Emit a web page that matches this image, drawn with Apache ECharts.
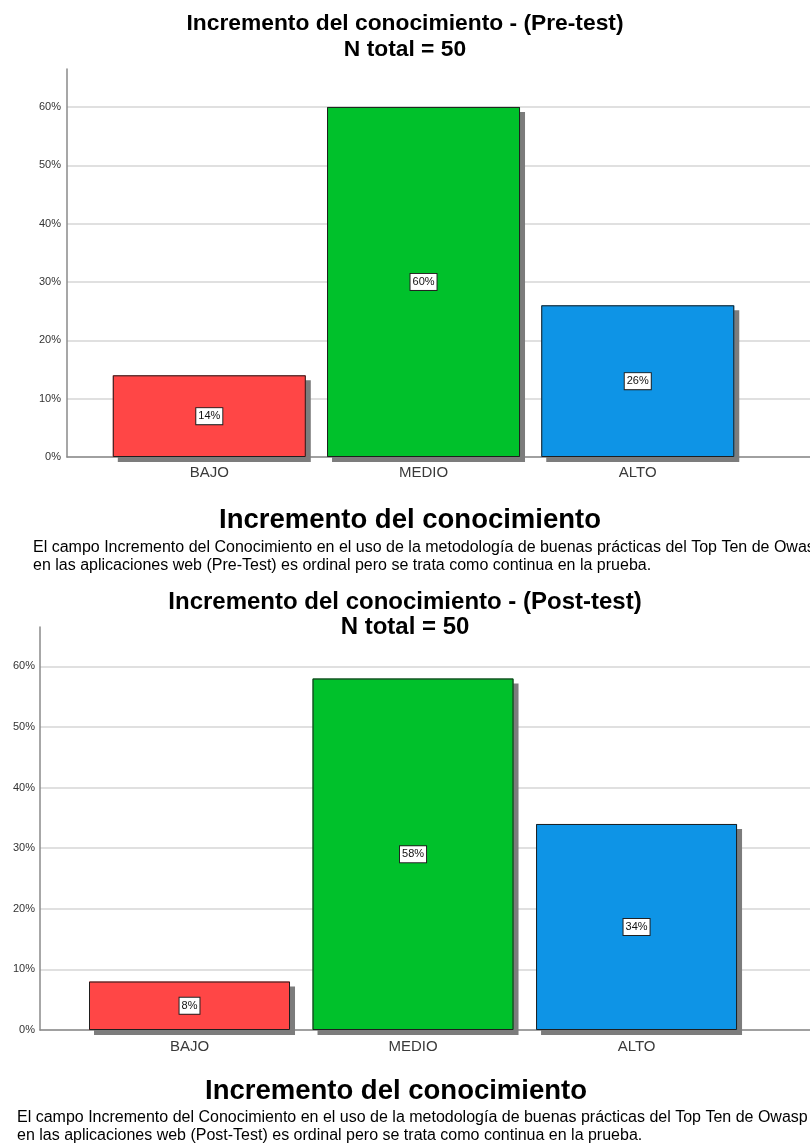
<!DOCTYPE html>
<html>
<head>
<meta charset="utf-8">
<script src="https://cdn.jsdelivr.net/npm/echarts@6/dist/echarts.min.js"></script>
<style>
html,body{margin:0;padding:0;background:#fff;}
#main{width:810px;height:1146px;}
</style>
</head>
<body>
<div id="main"></div>
<script>
// ---- data ----
const categories = ['BAJO', 'MEDIO', 'ALTO'];
const preTest = [14, 60, 26];
const postTest = [8, 58, 34];
const yTickValues = [0, 10, 20, 30, 40, 50, 60];
const titlePre = 'Incremento del conocimiento - (Pre-test)';
const titlePost = 'Incremento del conocimiento - (Post-test)';
const subTitle = 'N total = 50';
const fieldTitle = 'Incremento del conocimiento';
const notePre = ['El campo Incremento del Conocimiento en el uso de la metodología de buenas prácticas del Top Ten de Owasp',
                 'en las aplicaciones web (Pre-Test) es ordinal pero se trata como continua en la prueba.'];
const notePost = ['El campo Incremento del Conocimiento en el uso de la metodología de buenas prácticas del Top Ten de Owasp',
                  'en las aplicaciones web (Post-Test) es ordinal pero se trata como continua en la prueba.'];

// ---- styles ----
const FONT = "'Liberation Sans', Arial, sans-serif";
const barColors = ['#FF4646', '#00C12B', '#0E94E6'];

const chart = echarts.init(document.getElementById('main'), null, {renderer: 'canvas'});

// filled bars carrying the drop shadow (no border, so the shadow only shows outside)
function shadowSeries(values, idx, barWidth) {
  return {
    type: 'bar',
    xAxisIndex: idx,
    yAxisIndex: idx,
    barWidth: barWidth,
    barGap: '-100%',
    data: values.map((v, i) => ({value: [i, v], itemStyle: {color: barColors[i]}})),
    itemStyle: {
      borderWidth: 0,
      shadowColor: '#7c7c7c',
      shadowBlur: 0,
      shadowOffsetX: 5,
      shadowOffsetY: 5
    },
    label: {show: false},
    emphasis: {disabled: true},
    silent: true
  };
}

// outline bars on top with the value labels
function outlineSeries(values, idx, barWidth) {
  return {
    type: 'bar',
    xAxisIndex: idx,
    yAxisIndex: idx,
    barWidth: barWidth,
    barGap: '-100%',
    z: 3,
    data: values.map((v, i) => ({value: [i, v]})),
    itemStyle: {
      color: 'rgba(0,0,0,0)',
      borderColor: '#1e1e1e',
      borderWidth: 1
    },
    label: {
      show: true,
      position: 'inside',
      formatter: p => p.value[1] + '%',
      fontFamily: FONT,
      fontSize: 11,
      color: '#111',
      backgroundColor: '#fff',
      borderColor: '#222',
      borderWidth: 1,
      padding: [3, 2, 2, 2]
    },
    emphasis: {disabled: true},
    silent: true
  };
}

function xAxisCfg(idx, min, max, margin) {
  return {
    type: 'value',
    gridIndex: idx,
    min: min,
    max: max,
    axisLine: {show: true, onZero: false, lineStyle: {color: '#8a8a8a', width: 1.5}},
    axisTick: {show: false},
    splitLine: {show: false},
    axisLabel: {
      customValues: categories.map((c, i) => i),
      formatter: v => categories[Math.round(v)] || '',
      fontFamily: FONT,
      fontSize: 15,
      color: '#3a3a3a',
      margin: margin
    }
  };
}

function yAxisCfg(idx, margin) {
  return {
    type: 'value',
    gridIndex: idx,
    min: 0,
    max: 66.5,
    interval: 10,
    axisLine: {show: true, onZero: false, lineStyle: {color: '#8a8a8a', width: 1.5}},
    axisTick: {show: false},
    splitLine: {show: true, showMaxLine: false, lineStyle: {color: '#d6d6d6', width: 1.5}},
    axisLabel: {
      customValues: yTickValues,
      formatter: v => v + '%',
      fontFamily: FONT,
      fontSize: 11,
      color: '#333',
      margin: margin
    }
  };
}

function txt(text, x, y, size, weight, align) {
  return {
    type: 'text',
    x: x,
    y: y,
    silent: true,
    style: {
      text: text,
      fontFamily: FONT,
      fontSize: size,
      fontWeight: weight,
      fill: '#000',
      textAlign: align,
      textVerticalAlign: 'middle'
    }
  };
}

const option = {
  animation: false,
  backgroundColor: '#fff',
  title: [
    {
      text: titlePre, subtext: subTitle, left: 'center', top: 11, padding: 0, itemGap: 0,
      textStyle: {fontFamily: FONT, fontSize: 22.8, fontWeight: 'bold', color: '#000', lineHeight: 26},
      subtextStyle: {fontFamily: FONT, fontSize: 22.8, fontWeight: 'bold', color: '#000', lineHeight: 26}
    },
    {
      text: titlePost, subtext: subTitle, left: 'center', top: 590, padding: 0, itemGap: 0,
      textStyle: {fontFamily: FONT, fontSize: 24, fontWeight: 'bold', color: '#000', lineHeight: 25},
      subtextStyle: {fontFamily: FONT, fontSize: 24, fontWeight: 'bold', color: '#000', lineHeight: 25}
    }
  ],
  grid: [
    {left: 67, top: 69, right: 0, height: 388},
    {left: 40, top: 627, right: 0, height: 403}
  ],
  xAxis: [
    xAxisCfg(0, -0.6642, 2.804, 8),
    xAxisCfg(1, -0.6689, 2.776, 9)
  ],
  yAxis: [
    yAxisCfg(0, 6),
    yAxisCfg(1, 5)
  ],
  series: [
    shadowSeries(preTest, 0, 193),
    outlineSeries(preTest, 0, 193),
    shadowSeries(postTest, 1, 201),
    outlineSeries(postTest, 1, 201)
  ],
  graphic: [
    txt(fieldTitle, 410, 520, 27.5, 'bold', 'center'),
    txt(notePre[0], 33, 548, 16, 'normal', 'left'),
    txt(notePre[1], 33, 566, 16, 'normal', 'left'),
    txt(fieldTitle, 396, 1091, 27.5, 'bold', 'center'),
    txt(notePost[0], 17, 1118, 16, 'normal', 'left'),
    txt(notePost[1], 17, 1136, 16, 'normal', 'left')
  ]
};

chart.setOption(option);
</script>
</body>
</html>
